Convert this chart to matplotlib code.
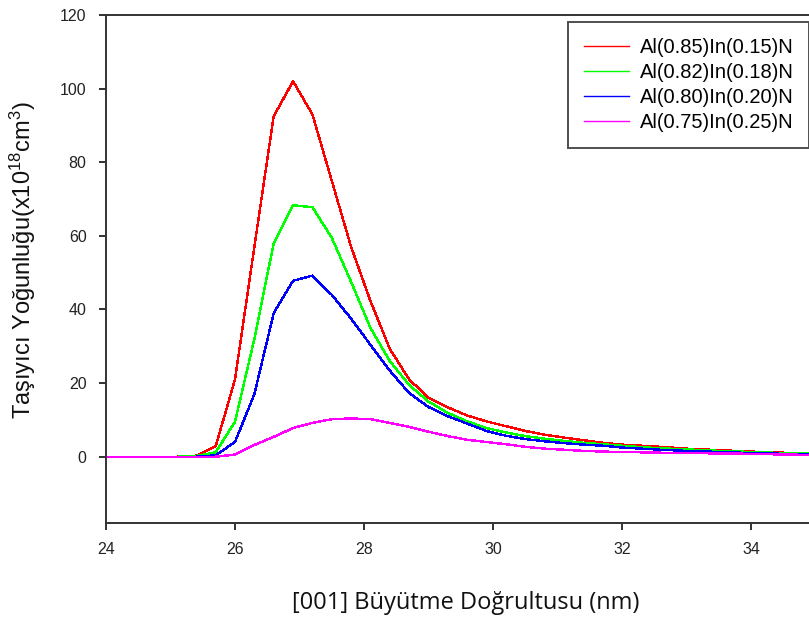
import matplotlib
matplotlib.use("Agg")
import matplotlib.pyplot as plt

plt.rcParams["mathtext.fontset"] = "custom"
plt.rcParams["mathtext.rm"] = "Liberation Sans"
plt.rcParams["mathtext.it"] = "Liberation Sans:italic"
plt.rcParams["mathtext.bf"] = "Liberation Sans:bold"

# Growth direction position (nm)
x = [24.0, 25.1, 25.4, 25.7, 26.0, 26.3, 26.6, 26.9, 27.2, 27.5, 27.8, 28.1, 28.4,
     28.7, 29.0, 29.3, 29.6, 29.9, 30.2, 30.5, 30.8, 31.1, 31.4, 31.7, 32.0,
     32.3, 32.6, 33.0, 33.5, 34.0, 34.5, 35.0, 36.0]

# Carrier density (x10^18 cm^-3) for each alloy composition
al085 = [0, 0, 0.3, 2.8, 21, 57, 92.5, 102, 93, 75, 57, 42.3, 29.3,
         21, 16, 13.4, 11.2, 9.6, 8.3, 7, 6, 5.2, 4.5, 3.8, 3.3,
         3.0, 2.7, 2.2, 1.8, 1.4, 1.1, 0.9, 0.6]
al082 = [0, 0, 0.2, 1.2, 9.5, 32, 58, 68.3, 67.8, 59.5, 47.5, 35, 26,
         19.5, 15, 11.9, 9.6, 7.8, 6.6, 5.6, 4.9, 4.3, 3.8, 3.4, 3.0,
         2.6, 2.3, 2.0, 1.6, 1.3, 1.0, 0.8, 0.5]
al080 = [0, 0, 0, 0.4, 4, 17, 39, 47.8, 49.2, 44, 37.5, 30.4, 23.4,
         17.3, 13.5, 11, 9.0, 7.0, 5.7, 4.8, 4.2, 3.7, 3.3, 3.0, 2.5,
         2.2, 1.9, 1.6, 1.3, 1.0, 0.8, 0.7, 0.5]
al075 = [0, 0, 0, 0, 0.6, 3.2, 5.4, 7.8, 9.2, 10.2, 10.4, 10.2, 9.2,
         8.1, 6.8, 5.6, 4.6, 4.0, 3.4, 2.7, 2.2, 1.9, 1.6, 1.4, 1.3,
         1.2, 1.1, 1.0, 0.9, 0.8, 0.6, 0.5, 0.4]

series = [
    (al085, "Al(0.85)In(0.15)N", "#ff0000"),
    (al082, "Al(0.82)In(0.18)N", "#00ff00"),
    (al080, "Al(0.80)In(0.20)N", "#0000ff"),
    (al075, "Al(0.75)In(0.25)N", "#ff00ff"),
]

xticks = [24, 26, 28, 30, 32, 34]
yticks = [0, 20, 40, 60, 80, 100, 120]

W, H = 809, 626
fig = plt.figure(figsize=(W / 100, H / 100), dpi=100)
ax = fig.add_axes([106 / W, 1 - 523 / H, 774 / W, 508 / H])

for ys, label, color in series:
    ax.plot(x, ys, color=color, lw=1.0, label=label, antialiased=False)

ax.set_xlim(24, 36)
ax.set_ylim(-18, 120)
ax.set_xticks(xticks)
ax.set_yticks(yticks)

tick_font = dict(family=["Liberation Sans", "DejaVu Sans"], size=11.5)
ax.set_xticklabels([str(t) for t in xticks], **tick_font)
ax.set_yticklabels([str(t) for t in yticks], **tick_font)
ax.tick_params(direction="out", length=5, width=1.3, colors="#222222")
ax.tick_params(axis="x", pad=9)
ax.tick_params(axis="y", pad=9)

for side in ax.spines.values():
    side.set_linewidth(1.4)
    side.set_color("#333333")

fig.text(466 / W, 1 - 603 / H, "[001] Büyütme Doğrultusu (nm)",
         family=["Open Sans", "DejaVu Sans"], size=17, ha="center", va="center",
         color="#111111")
fig.text(23 / W, 1 - 260 / H, r"Taşıyıcı Yoğunluğu(x10$^{18}$cm$^{3}$)",
         family=["Liberation Sans", "DejaVu Sans"], size=17, rotation=90,
         ha="center", va="center", color="#111111")

leg = ax.legend(loc="upper left", bbox_to_anchor=((568 - 106) / 774, (523 - 22) / 508),
                frameon=True, fancybox=False, borderpad=0.8, borderaxespad=0,
                handlelength=2.25, handletextpad=0.5, labelspacing=0.3,
                prop=dict(family=["Liberation Sans", "DejaVu Sans"], size=14.5))
leg.get_frame().set_edgecolor("#222222")
leg.get_frame().set_linewidth(1.4)
for line in leg.get_lines():
    line.set_linewidth(1.0)

fig.savefig("out.png", dpi=100)
